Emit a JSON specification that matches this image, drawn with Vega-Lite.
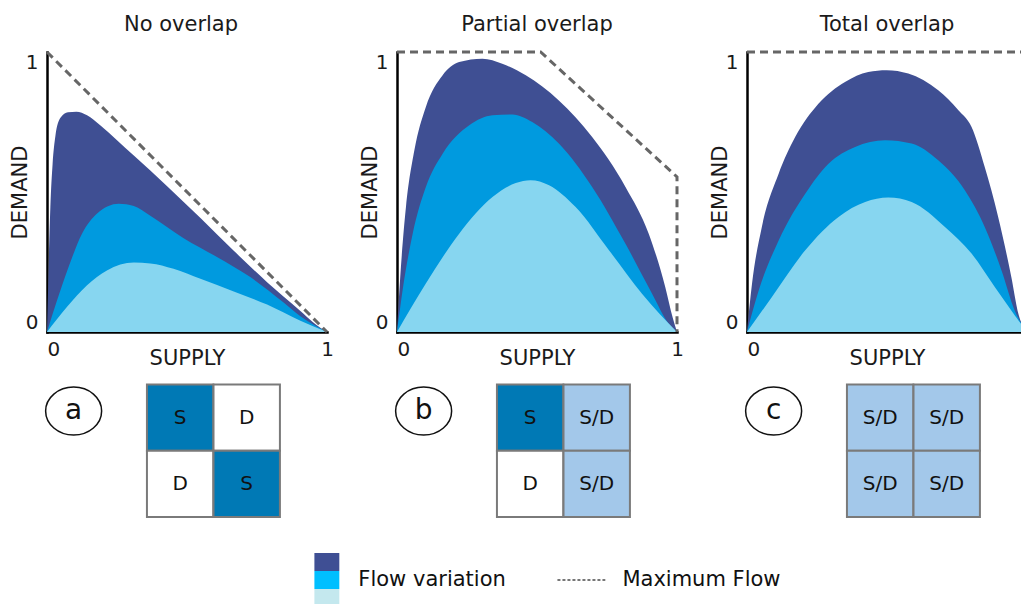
{
  "$schema": "https://vega.github.io/schema/vega-lite/v6.json",
  "background": "white",
  "padding": {"left": 9, "top": 14, "right": 0, "bottom": 0},
  "config": {
    "font": "DejaVu Sans",
    "view": {"stroke": null},
    "axis": {"domainColor": "#000000", "domainWidth": 2.5, "domainCap": "square", "ticks": false, "grid": false, "labelFont": "DejaVu Sans", "labelFontSize": 20, "labelColor": "#1a1a1a", "titleFont": "DejaVu Sans", "titleFontSize": 21, "titleFontWeight": "normal", "titleColor": "#1a1a1a", "labelOverlap": false, "format": "d"},
    "title": {"font": "DejaVu Sans", "fontSize": 21, "fontWeight": "normal", "color": "#1a1a1a", "offset": 11, "anchor": "middle"}
  },
  "datasets": {
    "curves": [
      {"panel": "a", "series": "high", "supply": 0, "demand": 0},
      {"panel": "a", "series": "high", "supply": 0.006, "demand": 0.232},
      {"panel": "a", "series": "high", "supply": 0.012, "demand": 0.446},
      {"panel": "a", "series": "high", "supply": 0.02, "demand": 0.6},
      {"panel": "a", "series": "high", "supply": 0.03, "demand": 0.7},
      {"panel": "a", "series": "high", "supply": 0.048, "demand": 0.765},
      {"panel": "a", "series": "high", "supply": 0.075, "demand": 0.785},
      {"panel": "a", "series": "high", "supply": 0.105, "demand": 0.787},
      {"panel": "a", "series": "high", "supply": 0.143, "demand": 0.774},
      {"panel": "a", "series": "high", "supply": 0.19, "demand": 0.738},
      {"panel": "a", "series": "high", "supply": 0.25, "demand": 0.685},
      {"panel": "a", "series": "high", "supply": 0.31, "demand": 0.63},
      {"panel": "a", "series": "high", "supply": 0.43, "demand": 0.52},
      {"panel": "a", "series": "high", "supply": 0.55, "demand": 0.405},
      {"panel": "a", "series": "high", "supply": 0.667, "demand": 0.29},
      {"panel": "a", "series": "high", "supply": 0.786, "demand": 0.178},
      {"panel": "a", "series": "high", "supply": 0.905, "demand": 0.075},
      {"panel": "a", "series": "high", "supply": 0.95, "demand": 0.035},
      {"panel": "a", "series": "high", "supply": 1, "demand": 0},
      {"panel": "a", "series": "mid", "supply": 0, "demand": 0},
      {"panel": "a", "series": "mid", "supply": 0.036, "demand": 0.113},
      {"panel": "a", "series": "mid", "supply": 0.077, "demand": 0.232},
      {"panel": "a", "series": "mid", "supply": 0.125, "demand": 0.351},
      {"panel": "a", "series": "mid", "supply": 0.179, "demand": 0.423},
      {"panel": "a", "series": "mid", "supply": 0.256, "demand": 0.458},
      {"panel": "a", "series": "mid", "supply": 0.31, "demand": 0.45},
      {"panel": "a", "series": "mid", "supply": 0.369, "demand": 0.415},
      {"panel": "a", "series": "mid", "supply": 0.488, "demand": 0.335},
      {"panel": "a", "series": "mid", "supply": 0.607, "demand": 0.268},
      {"panel": "a", "series": "mid", "supply": 0.726, "demand": 0.196},
      {"panel": "a", "series": "mid", "supply": 0.845, "demand": 0.105},
      {"panel": "a", "series": "mid", "supply": 0.905, "demand": 0.056},
      {"panel": "a", "series": "mid", "supply": 1, "demand": 0},
      {"panel": "a", "series": "low", "supply": 0, "demand": 0},
      {"panel": "a", "series": "low", "supply": 0.071, "demand": 0.089},
      {"panel": "a", "series": "low", "supply": 0.143, "demand": 0.167},
      {"panel": "a", "series": "low", "supply": 0.214, "demand": 0.22},
      {"panel": "a", "series": "low", "supply": 0.31, "demand": 0.248},
      {"panel": "a", "series": "low", "supply": 0.369, "demand": 0.245},
      {"panel": "a", "series": "low", "supply": 0.452, "demand": 0.226},
      {"panel": "a", "series": "low", "supply": 0.548, "demand": 0.19},
      {"panel": "a", "series": "low", "supply": 0.667, "demand": 0.145},
      {"panel": "a", "series": "low", "supply": 0.786, "demand": 0.098},
      {"panel": "a", "series": "low", "supply": 0.905, "demand": 0.04},
      {"panel": "a", "series": "low", "supply": 1, "demand": 0},
      {"panel": "b", "series": "high", "supply": 0, "demand": 0},
      {"panel": "b", "series": "high", "supply": 0.014, "demand": 0.232},
      {"panel": "b", "series": "high", "supply": 0.032, "demand": 0.446},
      {"panel": "b", "series": "high", "supply": 0.062, "demand": 0.649},
      {"panel": "b", "series": "high", "supply": 0.103, "demand": 0.804},
      {"panel": "b", "series": "high", "supply": 0.163, "demand": 0.917},
      {"panel": "b", "series": "high", "supply": 0.222, "demand": 0.964},
      {"panel": "b", "series": "high", "supply": 0.305, "demand": 0.976},
      {"panel": "b", "series": "high", "supply": 0.376, "demand": 0.958},
      {"panel": "b", "series": "high", "supply": 0.46, "demand": 0.917},
      {"panel": "b", "series": "high", "supply": 0.578, "demand": 0.827},
      {"panel": "b", "series": "high", "supply": 0.697, "demand": 0.696},
      {"panel": "b", "series": "high", "supply": 0.816, "demand": 0.518},
      {"panel": "b", "series": "high", "supply": 0.899, "demand": 0.351},
      {"panel": "b", "series": "high", "supply": 0.958, "demand": 0.161},
      {"panel": "b", "series": "high", "supply": 0.985, "demand": 0.05},
      {"panel": "b", "series": "high", "supply": 1, "demand": 0},
      {"panel": "b", "series": "mid", "supply": 0, "demand": 0},
      {"panel": "b", "series": "mid", "supply": 0.02, "demand": 0.149},
      {"panel": "b", "series": "mid", "supply": 0.056, "demand": 0.351},
      {"panel": "b", "series": "mid", "supply": 0.103, "demand": 0.518},
      {"panel": "b", "series": "mid", "supply": 0.163, "demand": 0.637},
      {"panel": "b", "series": "mid", "supply": 0.258, "demand": 0.738},
      {"panel": "b", "series": "mid", "supply": 0.341, "demand": 0.774},
      {"panel": "b", "series": "mid", "supply": 0.412, "demand": 0.777},
      {"panel": "b", "series": "mid", "supply": 0.483, "demand": 0.75},
      {"panel": "b", "series": "mid", "supply": 0.578, "demand": 0.673},
      {"panel": "b", "series": "mid", "supply": 0.697, "demand": 0.518},
      {"panel": "b", "series": "mid", "supply": 0.816, "demand": 0.315},
      {"panel": "b", "series": "mid", "supply": 0.911, "demand": 0.137},
      {"panel": "b", "series": "mid", "supply": 0.97, "demand": 0.03},
      {"panel": "b", "series": "mid", "supply": 1, "demand": 0},
      {"panel": "b", "series": "low", "supply": 0, "demand": 0},
      {"panel": "b", "series": "low", "supply": 0.103, "demand": 0.173},
      {"panel": "b", "series": "low", "supply": 0.222, "demand": 0.351},
      {"panel": "b", "series": "low", "supply": 0.341, "demand": 0.482},
      {"panel": "b", "series": "low", "supply": 0.424, "demand": 0.532},
      {"panel": "b", "series": "low", "supply": 0.477, "demand": 0.542},
      {"panel": "b", "series": "low", "supply": 0.543, "demand": 0.524},
      {"panel": "b", "series": "low", "supply": 0.638, "demand": 0.446},
      {"panel": "b", "series": "low", "supply": 0.757, "demand": 0.292},
      {"panel": "b", "series": "low", "supply": 0.875, "demand": 0.137},
      {"panel": "b", "series": "low", "supply": 1, "demand": 0},
      {"panel": "c", "series": "high", "supply": 0, "demand": 0},
      {"panel": "c", "series": "high", "supply": 0.018, "demand": 0.173},
      {"panel": "c", "series": "high", "supply": 0.053, "demand": 0.375},
      {"panel": "c", "series": "high", "supply": 0.113, "demand": 0.565},
      {"panel": "c", "series": "high", "supply": 0.172, "demand": 0.696},
      {"panel": "c", "series": "high", "supply": 0.255, "demand": 0.815},
      {"panel": "c", "series": "high", "supply": 0.35, "demand": 0.893},
      {"panel": "c", "series": "high", "supply": 0.433, "demand": 0.929},
      {"panel": "c", "series": "high", "supply": 0.499, "demand": 0.935},
      {"panel": "c", "series": "high", "supply": 0.576, "demand": 0.923},
      {"panel": "c", "series": "high", "supply": 0.683, "demand": 0.863},
      {"panel": "c", "series": "high", "supply": 0.755, "demand": 0.792},
      {"panel": "c", "series": "high", "supply": 0.802, "demand": 0.732},
      {"panel": "c", "series": "high", "supply": 0.849, "demand": 0.589},
      {"panel": "c", "series": "high", "supply": 0.897, "demand": 0.411},
      {"panel": "c", "series": "high", "supply": 0.944, "demand": 0.196},
      {"panel": "c", "series": "high", "supply": 0.968, "demand": 0.07},
      {"panel": "c", "series": "high", "supply": 1, "demand": 0},
      {"panel": "c", "series": "mid", "supply": 0, "demand": 0},
      {"panel": "c", "series": "mid", "supply": 0.042, "demand": 0.149},
      {"panel": "c", "series": "mid", "supply": 0.113, "demand": 0.327},
      {"panel": "c", "series": "mid", "supply": 0.208, "demand": 0.494},
      {"panel": "c", "series": "mid", "supply": 0.291, "demand": 0.601},
      {"panel": "c", "series": "mid", "supply": 0.386, "demand": 0.661},
      {"panel": "c", "series": "mid", "supply": 0.493, "demand": 0.685},
      {"panel": "c", "series": "mid", "supply": 0.588, "demand": 0.673},
      {"panel": "c", "series": "mid", "supply": 0.683, "demand": 0.613},
      {"panel": "c", "series": "mid", "supply": 0.778, "demand": 0.506},
      {"panel": "c", "series": "mid", "supply": 0.849, "demand": 0.375},
      {"panel": "c", "series": "mid", "supply": 0.909, "demand": 0.22},
      {"panel": "c", "series": "mid", "supply": 0.956, "demand": 0.077},
      {"panel": "c", "series": "mid", "supply": 1, "demand": 0},
      {"panel": "c", "series": "low", "supply": 0, "demand": 0},
      {"panel": "c", "series": "low", "supply": 0.089, "demand": 0.125},
      {"panel": "c", "series": "low", "supply": 0.208, "demand": 0.292},
      {"panel": "c", "series": "low", "supply": 0.327, "demand": 0.411},
      {"panel": "c", "series": "low", "supply": 0.422, "demand": 0.464},
      {"panel": "c", "series": "low", "supply": 0.505, "demand": 0.48},
      {"panel": "c", "series": "low", "supply": 0.588, "demand": 0.464},
      {"panel": "c", "series": "low", "supply": 0.707, "demand": 0.375},
      {"panel": "c", "series": "low", "supply": 0.802, "demand": 0.28},
      {"panel": "c", "series": "low", "supply": 0.885, "demand": 0.161},
      {"panel": "c", "series": "low", "supply": 0.944, "demand": 0.077},
      {"panel": "c", "series": "low", "supply": 1, "demand": 0}
    ],
    "maxflow": [
      {"panel": "a", "supply": 0, "demand": 1},
      {"panel": "a", "supply": 1, "demand": 0},
      {"panel": "b", "supply": 0, "demand": 1},
      {"panel": "b", "supply": 0.513, "demand": 1},
      {"panel": "b", "supply": 1, "demand": 0.554},
      {"panel": "b", "supply": 1, "demand": 0},
      {"panel": "c", "supply": 0, "demand": 1},
      {"panel": "c", "supply": 1, "demand": 1}
    ],
    "cells": [
      {"panel": "a", "row": 1, "col": 1, "kind": "S", "label": "S"},
      {"panel": "a", "row": 1, "col": 2, "kind": "D", "label": "D"},
      {"panel": "a", "row": 2, "col": 1, "kind": "D", "label": "D"},
      {"panel": "a", "row": 2, "col": 2, "kind": "S", "label": "S"},
      {"panel": "b", "row": 1, "col": 1, "kind": "S", "label": "S"},
      {"panel": "b", "row": 1, "col": 2, "kind": "SD", "label": "S/D"},
      {"panel": "b", "row": 2, "col": 1, "kind": "D", "label": "D"},
      {"panel": "b", "row": 2, "col": 2, "kind": "SD", "label": "S/D"},
      {"panel": "c", "row": 1, "col": 1, "kind": "SD", "label": "S/D"},
      {"panel": "c", "row": 1, "col": 2, "kind": "SD", "label": "S/D"},
      {"panel": "c", "row": 2, "col": 1, "kind": "SD", "label": "S/D"},
      {"panel": "c", "row": 2, "col": 2, "kind": "SD", "label": "S/D"}
    ],
    "tags": [
      {"panel": "a", "tag": "a"},
      {"panel": "b", "tag": "b"},
      {"panel": "c", "tag": "c"}
    ],
    "legendKeys": [
      {"level": "high"},
      {"level": "mid"},
      {"level": "low"}
    ]
  },
  "columns": 3,
  "bounds": "flush",
  "spacing": {"row": 36, "column": 70},
  "resolve": {"scale": {"color": "independent", "fill": "independent"}},
  "concat": [
    {
      "width": 280, "height": 280,
      "title": {"text": "No overlap", "dx": -6},
      "encoding": {
        "x": {"field": "supply", "type": "quantitative", "title": "SUPPLY", "scale": {"domain": [0, 1]}, "axis": {"values": [0, 1], "labelAlign": {"condition": {"test": "datum.value == 0", "value": "left"}, "value": "center"}, "labelBaseline": "top", "labelPadding": 7, "titlePadding": -12}},
        "y": {"field": "demand", "type": "quantitative", "title": "DEMAND", "stack": null, "scale": {"domain": [0, 1]}, "axis": {"values": [0, 1], "labelFlush": true, "labelPadding": 9, "titlePadding": -5}}
      },
      "layer": [
        {"data": {"name": "curves"}, "transform": [{"filter": "datum.panel == 'a'"}], "mark": {"type": "area", "interpolate": "monotone"},
         "encoding": {"color": {"field": "series", "type": "nominal", "scale": {"domain": ["high", "mid", "low"], "range": ["#3F4F93", "#009ADF", "#87D6F0"]}, "legend": null}}},
        {"data": {"name": "maxflow"}, "transform": [{"filter": "datum.panel == 'a'"}], "mark": {"type": "line", "strokeDash": [8, 5], "strokeWidth": 3, "color": "#666666"},
         "encoding": {"order": {"value": null}}}
      ]
    },
    {
      "width": 280, "height": 280,
      "title": {"text": "Partial overlap"},
      "encoding": {
        "x": {"field": "supply", "type": "quantitative", "title": "SUPPLY", "scale": {"domain": [0, 1]}, "axis": {"values": [0, 1], "labelAlign": {"condition": {"test": "datum.value == 0", "value": "left"}, "value": "center"}, "labelBaseline": "top", "labelPadding": 7, "titlePadding": -12}},
        "y": {"field": "demand", "type": "quantitative", "title": "DEMAND", "stack": null, "scale": {"domain": [0, 1]}, "axis": {"values": [0, 1], "labelFlush": true, "labelPadding": 9, "titlePadding": -5}}
      },
      "layer": [
        {"data": {"name": "curves"}, "transform": [{"filter": "datum.panel == 'b'"}], "mark": {"type": "area", "interpolate": "monotone"},
         "encoding": {"color": {"field": "series", "type": "nominal", "scale": {"domain": ["high", "mid", "low"], "range": ["#3F4F93", "#009ADF", "#87D6F0"]}, "legend": null}}},
        {"data": {"name": "maxflow"}, "transform": [{"filter": "datum.panel == 'b'"}], "mark": {"type": "line", "strokeDash": [8, 5], "strokeWidth": 3, "color": "#666666"},
         "encoding": {"order": {"value": null}}}
      ]
    },
    {
      "width": 280, "height": 280,
      "title": {"text": "Total overlap"},
      "encoding": {
        "x": {"field": "supply", "type": "quantitative", "title": "SUPPLY", "scale": {"domain": [0, 1]}, "axis": {"values": [0], "labelAlign": "left", "labelBaseline": "top", "labelPadding": 7, "titlePadding": -12}},
        "y": {"field": "demand", "type": "quantitative", "title": "DEMAND", "stack": null, "scale": {"domain": [0, 1]}, "axis": {"values": [0, 1], "labelFlush": true, "labelPadding": 9, "titlePadding": -5}}
      },
      "layer": [
        {"data": {"name": "curves"}, "transform": [{"filter": "datum.panel == 'c'"}], "mark": {"type": "area", "interpolate": "monotone"},
         "encoding": {"color": {"field": "series", "type": "nominal", "scale": {"domain": ["high", "mid", "low"], "range": ["#3F4F93", "#009ADF", "#87D6F0"]}, "legend": null}}},
        {"data": {"name": "maxflow"}, "transform": [{"filter": "datum.panel == 'c'"}], "mark": {"type": "line", "strokeDash": [8, 5], "strokeWidth": 3, "color": "#666666"},
         "encoding": {"order": {"value": null}}}
      ]
    },
    {
      "width": 233, "height": 149,
      "layer": [
        {"data": {"name": "cells"}, "transform": [{"filter": "datum.panel == 'a'"}], "mark": {"type": "square", "size": 4410, "opacity": 1, "stroke": "#7A7A7A", "strokeWidth": 2},
         "encoding": {"x": {"field": "col", "type": "quantitative", "scale": {"domain": [-1, 2.5]}, "axis": null}, "y": {"field": "row", "type": "quantitative", "scale": {"domain": [0.25, 2.5], "reverse": true}, "axis": null},
                      "fill": {"field": "kind", "type": "nominal", "scale": {"domain": ["S", "D", "SD"], "range": ["#0079B5", "#FFFFFF", "#A3C8EA"]}, "legend": null}}},
        {"data": {"name": "cells"}, "transform": [{"filter": "datum.panel == 'a'"}], "mark": {"type": "text", "fontSize": 20, "color": "#111111"},
         "encoding": {"x": {"field": "col", "type": "quantitative", "scale": {"domain": [-1, 2.5]}, "axis": null}, "y": {"field": "row", "type": "quantitative", "scale": {"domain": [0.25, 2.5], "reverse": true}, "axis": null}, "text": {"field": "label"}}},
        {"data": {"name": "tags"}, "transform": [{"filter": "datum.panel == 'a'"}], "mark": {"type": "point", "shape": "M-1,0A1,0.857,0,1,0,1,0A1,0.857,0,1,0,-1,0Z", "size": 3136, "filled": true, "fill": "#FFFFFF", "stroke": "#111111", "strokeWidth": 1.5, "opacity": 1},
         "encoding": {"x": {"datum": -0.6, "type": "quantitative", "scale": {"domain": [-1, 2.5]}}, "y": {"datum": 0.9, "type": "quantitative", "scale": {"domain": [0.25, 2.5], "reverse": true}}}},
        {"data": {"name": "tags"}, "transform": [{"filter": "datum.panel == 'a'"}], "mark": {"type": "text", "fontSize": 28, "color": "#111111"},
         "encoding": {"x": {"datum": -0.6, "type": "quantitative", "scale": {"domain": [-1, 2.5]}}, "y": {"datum": 0.9, "type": "quantitative", "scale": {"domain": [0.25, 2.5], "reverse": true}}, "text": {"field": "tag"}}}
      ]
    },
    {
      "width": 233, "height": 149,
      "layer": [
        {"data": {"name": "cells"}, "transform": [{"filter": "datum.panel == 'b'"}], "mark": {"type": "square", "size": 4410, "opacity": 1, "stroke": "#7A7A7A", "strokeWidth": 2},
         "encoding": {"x": {"field": "col", "type": "quantitative", "scale": {"domain": [-1, 2.5]}, "axis": null}, "y": {"field": "row", "type": "quantitative", "scale": {"domain": [0.25, 2.5], "reverse": true}, "axis": null},
                      "fill": {"field": "kind", "type": "nominal", "scale": {"domain": ["S", "D", "SD"], "range": ["#0079B5", "#FFFFFF", "#A3C8EA"]}, "legend": null}}},
        {"data": {"name": "cells"}, "transform": [{"filter": "datum.panel == 'b'"}], "mark": {"type": "text", "fontSize": 20, "color": "#111111"},
         "encoding": {"x": {"field": "col", "type": "quantitative", "scale": {"domain": [-1, 2.5]}, "axis": null}, "y": {"field": "row", "type": "quantitative", "scale": {"domain": [0.25, 2.5], "reverse": true}, "axis": null}, "text": {"field": "label"}}},
        {"data": {"name": "tags"}, "transform": [{"filter": "datum.panel == 'b'"}], "mark": {"type": "point", "shape": "M-1,0A1,0.857,0,1,0,1,0A1,0.857,0,1,0,-1,0Z", "size": 3136, "filled": true, "fill": "#FFFFFF", "stroke": "#111111", "strokeWidth": 1.5, "opacity": 1},
         "encoding": {"x": {"datum": -0.6, "type": "quantitative", "scale": {"domain": [-1, 2.5]}}, "y": {"datum": 0.9, "type": "quantitative", "scale": {"domain": [0.25, 2.5], "reverse": true}}}},
        {"data": {"name": "tags"}, "transform": [{"filter": "datum.panel == 'b'"}], "mark": {"type": "text", "fontSize": 28, "color": "#111111"},
         "encoding": {"x": {"datum": -0.6, "type": "quantitative", "scale": {"domain": [-1, 2.5]}}, "y": {"datum": 0.9, "type": "quantitative", "scale": {"domain": [0.25, 2.5], "reverse": true}}, "text": {"field": "tag"}}}
      ]
    },
    {
      "width": 233, "height": 149,
      "layer": [
        {"data": {"name": "cells"}, "transform": [{"filter": "datum.panel == 'c'"}], "mark": {"type": "square", "size": 4410, "opacity": 1, "stroke": "#7A7A7A", "strokeWidth": 2},
         "encoding": {"x": {"field": "col", "type": "quantitative", "scale": {"domain": [-1, 2.5]}, "axis": null}, "y": {"field": "row", "type": "quantitative", "scale": {"domain": [0.25, 2.5], "reverse": true}, "axis": null},
                      "fill": {"field": "kind", "type": "nominal", "scale": {"domain": ["S", "D", "SD"], "range": ["#0079B5", "#FFFFFF", "#A3C8EA"]}, "legend": null}}},
        {"data": {"name": "cells"}, "transform": [{"filter": "datum.panel == 'c'"}], "mark": {"type": "text", "fontSize": 20, "color": "#111111"},
         "encoding": {"x": {"field": "col", "type": "quantitative", "scale": {"domain": [-1, 2.5]}, "axis": null}, "y": {"field": "row", "type": "quantitative", "scale": {"domain": [0.25, 2.5], "reverse": true}, "axis": null}, "text": {"field": "label"}}},
        {"data": {"name": "tags"}, "transform": [{"filter": "datum.panel == 'c'"}], "mark": {"type": "point", "shape": "M-1,0A1,0.857,0,1,0,1,0A1,0.857,0,1,0,-1,0Z", "size": 3136, "filled": true, "fill": "#FFFFFF", "stroke": "#111111", "strokeWidth": 1.5, "opacity": 1},
         "encoding": {"x": {"datum": -0.6, "type": "quantitative", "scale": {"domain": [-1, 2.5]}}, "y": {"datum": 0.9, "type": "quantitative", "scale": {"domain": [0.25, 2.5], "reverse": true}}}},
        {"data": {"name": "tags"}, "transform": [{"filter": "datum.panel == 'c'"}], "mark": {"type": "text", "fontSize": 28, "color": "#111111"},
         "encoding": {"x": {"datum": -0.6, "type": "quantitative", "scale": {"domain": [-1, 2.5]}}, "y": {"datum": 0.9, "type": "quantitative", "scale": {"domain": [0.25, 2.5], "reverse": true}}, "text": {"field": "tag"}}}
      ]
    },
    {
      "width": 280, "height": 54,
      "layer": [
        {"data": {"name": "legendKeys"}, "mark": {"type": "rect"},
         "encoding": {"x": {"datum": 0.955, "type": "quantitative", "scale": {"domain": [0, 1]}, "axis": null}, "x2": {"datum": 1.044},
                      "y": {"field": "level", "type": "nominal", "scale": {"domain": ["high", "mid", "low"], "paddingInner": 0, "paddingOuter": 0}, "axis": null},
                      "color": {"field": "level", "type": "nominal", "scale": {"domain": ["high", "mid", "low"], "range": ["#3F4F94", "#00BFFF", "#C4E8EE"]}, "legend": null}}},
        {"data": {"values": [{"label": "Flow variation"}]}, "mark": {"type": "text", "align": "left", "fontSize": 21, "color": "#111111"},
         "encoding": {"x": {"datum": 1.112, "type": "quantitative", "scale": {"domain": [0, 1]}}, "y": {"datum": "mid", "type": "nominal", "scale": {"domain": ["high", "mid", "low"], "paddingInner": 0, "paddingOuter": 0}}, "text": {"field": "label"}}},
        {"data": {"values": [{"label": "Maximum Flow"}]}, "mark": {"type": "rule", "strokeDash": [3, 2], "strokeWidth": 2, "color": "#777777"},
         "encoding": {"x": {"datum": 1.823, "type": "quantitative", "scale": {"domain": [0, 1]}}, "x2": {"datum": 1.994}, "y": {"datum": "mid", "type": "nominal", "scale": {"domain": ["high", "mid", "low"], "paddingInner": 0, "paddingOuter": 0}}}},
        {"data": {"values": [{"label": "Maximum Flow"}]}, "mark": {"type": "text", "align": "left", "fontSize": 21, "color": "#111111"},
         "encoding": {"x": {"datum": 2.055, "type": "quantitative", "scale": {"domain": [0, 1]}}, "y": {"datum": "mid", "type": "nominal", "scale": {"domain": ["high", "mid", "low"], "paddingInner": 0, "paddingOuter": 0}}, "text": {"field": "label"}}}
      ]
    }
  ]
}
